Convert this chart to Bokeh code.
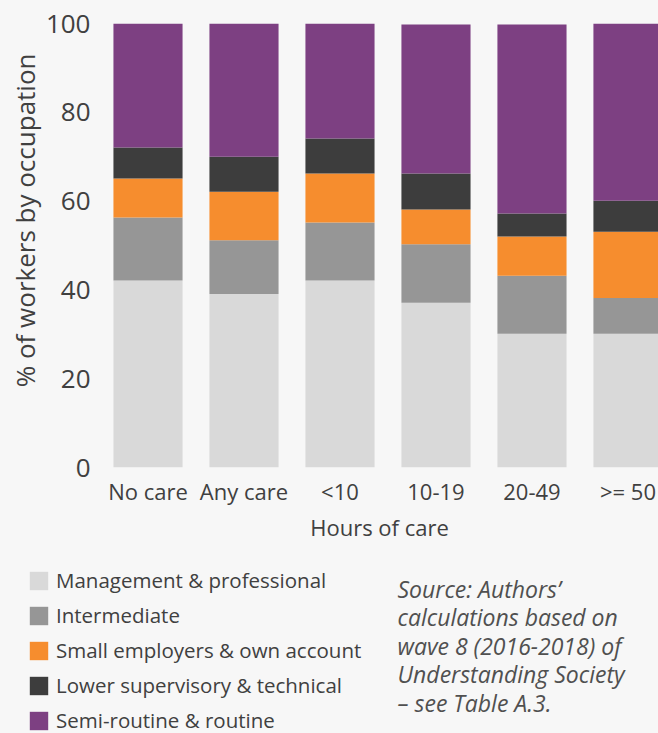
from bokeh.plotting import figure
from bokeh.layouts import column
from bokeh.models import (ColumnDataSource, Range1d, FixedTicker, Legend,
                          LegendItem, Label, Title)
from bokeh.embed import file_html
from bokeh.resources import INLINE

# ---- data ----
categories = ["No care", "Any care", "<10", "10-19", "20-49", ">= 50"]
series_names = ["Management & professional", "Intermediate",
                "Small employers & own account", "Lower supervisory & technical",
                "Semi-routine & routine"]
management = [42.1, 39.1, 42.1, 37.1, 30.1, 30.1]
intermediate = [14.2, 12.1, 13.1, 13.2, 13.1, 8.1]
small_employers = [8.8, 10.9, 11.0, 7.8, 8.8, 14.9]
lower_supervisory = [7.0, 7.9, 7.9, 8.1, 5.2, 7.0]
semi_routine = [27.9, 30.0, 25.9, 33.6, 42.6, 39.9]
y_ticks = [0, 20, 40, 60, 80, 100]
source_lines = ["Source: Authors\u2019", "calculations based on",
                "wave 8 (2016-2018) of", "Understanding Society",
                "\u2013 see Table A.3."]

# ---- style ----
BG = "#f7f7f7"
TXT = "#404040"
FONT = "Open Sans"
colors = ["#d9d9d9", "#969696", "#f68d2e", "#3d3d3d", "#7d4082"]
keys = ["management", "intermediate", "small", "lower", "semi"]

src = ColumnDataSource(dict(
    x=list(range(len(categories))),
    management=management, intermediate=intermediate, small=small_employers,
    lower=lower_supervisory, semi=semi_routine,
))

p = figure(width=658, height=555, output_backend="svg", toolbar_location=None,
           x_range=Range1d(-0.4948, 5.318), y_range=Range1d(0, 100),
           min_border_left=100, min_border_right=0, min_border_top=23,
           min_border_bottom=88,
           background_fill_color=BG, border_fill_color=BG,
           outline_line_color=None, frame_align=False)

renderers = p.vbar_stack(keys, x="x", width=0.72, source=src,
                         fill_color=colors, line_color=None)

p.grid.visible = False

xa = p.xaxis[0]
xa.ticker = FixedTicker(ticks=list(range(len(categories))))
xa.major_label_overrides = {i: c for i, c in enumerate(categories)}
xa.axis_line_color = None
xa.major_tick_line_color = None
xa.minor_tick_line_color = None
xa.major_label_text_font = FONT
xa.major_label_text_font_size = "22px"
xa.major_label_text_color = TXT
xa.major_label_standoff = 2
xa.axis_label = "Hours of care"
xa.axis_label_text_font = FONT
xa.axis_label_text_font_size = "22px"
xa.axis_label_text_font_style = "normal"
xa.axis_label_text_color = TXT
xa.axis_label_standoff = 3

ya = p.yaxis[0]
ya.ticker = FixedTicker(ticks=y_ticks)
ya.axis_line_color = None
ya.major_tick_line_color = None
ya.minor_tick_line_color = None
ya.major_label_text_font = FONT
ya.major_label_text_font_size = "26px"
ya.major_label_text_color = TXT
ya.major_label_standoff = 4

p.add_layout(Title(text="% of workers by occupation", align="right", offset=30,
                   text_font=FONT, text_font_size="26px", text_font_style="normal",
                   text_color=TXT, standoff=0), "left")

# ---- legend + source panel ----
p2 = figure(width=658, height=178, output_backend="svg", toolbar_location=None,
            x_range=Range1d(0, 658), y_range=Range1d(0, 178),
            x_axis_type=None, y_axis_type=None,
            min_border_left=0, min_border_right=0, min_border_top=0,
            min_border_bottom=0,
            background_fill_color=BG, border_fill_color=BG,
            outline_line_color=None, frame_align=False)
p2.grid.visible = False

legend_renderers = p2.vbar_stack(keys, x="x", width=0.72, source=src,
                                 fill_color=colors, line_color=None, visible=False)
legend = Legend(items=[LegendItem(label=n, renderers=[r])
                       for n, r in zip(series_names, legend_renderers)],
                location=(27, -1), orientation="vertical",
                glyph_width=23, glyph_height=23, label_standoff=6,
                spacing=7, padding=0, margin=0,
                border_line_color=None, background_fill_alpha=0,
                label_text_font=FONT, label_text_font_size="20.5px",
                label_text_color=TXT, label_height=23)
p2.add_layout(legend)

for i, line in enumerate(source_lines):
    p2.add_layout(Label(x=397, y=145 - 28.5 * i, x_units="screen", y_units="screen",
                        text=line, text_align="left", text_baseline="middle",
                        text_font=FONT, text_font_size="23px",
                        text_font_style="italic", text_color="#505050"))

layout = column(p, p2, spacing=0)
html = file_html(layout, INLINE)
html = html.replace("<head>", "<head><style>html,body{background:#f7f7f7;}</style>", 1)
open("out.html", "w").write(html)
